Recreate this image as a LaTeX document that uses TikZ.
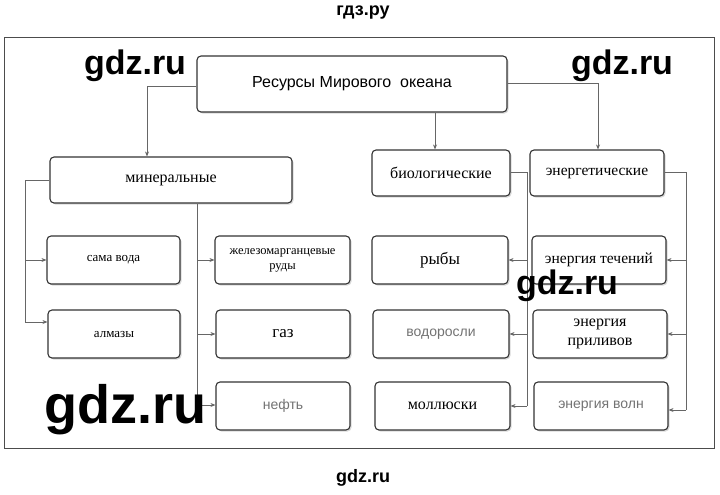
\documentclass[tikz,border=0pt]{standalone}
\usepackage{fontspec}
\setmainfont{Liberation Serif}
\newfontfamily\sansf{Liberation Sans}
\usetikzlibrary{arrows.meta,shadows}
\begin{document}
\begin{tikzpicture}[x=1pt,y=-1pt,
  bx/.style={draw=black!80,line width=1.1pt,rounded corners=4pt,fill=white,drop shadow={opacity=0.3,shadow xshift=1.5pt,shadow yshift=-1.5pt},align=center,inner sep=0pt},
  ln/.style={draw=black!60,line width=0.7pt},
  ar/.style={ln,-{Stealth[length=5pt,width=4pt]}},
  gr/.style={font=\sansf\fontsize{14}{16}\selectfont,text=black!55},
  wm/.style={text=black}]
\useasboundingbox (0,0) rectangle (720,495);
\draw[black!70,line width=1pt] (4,38) rectangle (714,448);
\newcommand\bb[7]{\node[bx,minimum width=#4-#2,minimum height=#5-#3,#6] (#1) at ({(#2+#4)/2},{(#3+#5)/2}) {#7};}
\bb{t}{197}{56}{507}{112}{font=\sansf\fontsize{16}{18}\selectfont}{Ресурсы Мирового\ \ океана}
\bb{m}{50}{157}{292}{203}{font=\fontsize{16}{18}\selectfont}{минеральные}
\bb{b}{372}{150}{510}{196}{font=\fontsize{16}{18}\selectfont}{биологические}
\bb{e}{530}{150}{664}{196}{font=\fontsize{15.5}{18}\selectfont}{энергетические}
\bb{sv}{47}{236}{180}{284}{font=\fontsize{13}{15}\selectfont}{сама вода}
\bb{zm}{215}{236}{350}{284}{font=\fontsize{12.5}{15}\selectfont}{железомарганцевые\\руды}
\bb{ry}{372}{236}{508}{284}{font=\fontsize{17}{19}\selectfont}{рыбы}
\bb{et}{532}{236}{666}{284}{font=\fontsize{15.5}{18}\selectfont}{энергия течений}
\bb{al}{48}{310}{180}{358}{font=\fontsize{13}{15}\selectfont}{алмазы}
\bb{gz}{216}{310}{350}{358}{font=\fontsize{17}{19}\selectfont}{газ}
\bb{vd}{373}{310}{509}{358}{gr}{водоросли}
\bb{ep}{533}{310}{667}{358}{font=\fontsize{16}{19}\selectfont}{энергия\\приливов}
\bb{nf}{216}{382}{350}{430}{gr}{нефть}
\bb{ml}{375}{382}{510}{430}{font=\fontsize{16}{18}\selectfont}{моллюски}
\bb{ev}{534}{382}{668}{430}{gr}{энергия волн}
% connectors
\draw[ar] (t.west|-0,86) -| (m.north-|147,0);
\draw[ar] (t.south-|435,0) -- (b.north-|435,0);
\draw[ar] (t.east|-0,83) -| (e.north-|598,0);
\draw[ln] (m.west|-0,180) -| (25,322);
\draw[ar] (25,260) -- (sv.west|-0,260);
\draw[ar] (25,322) -- (al.west|-0,322);
\draw[ln] (m.south-|197,0) -- (197,405);
\draw[ar] (197,260) -- (zm.west|-0,260);
\draw[ar] (197,334) -- (gz.west|-0,334);
\draw[ar] (197,405) -- (nf.west|-0,405);
\draw[ln] (b.east|-0,172) -| (527,406);
\draw[ar] (527,260) -- (ry.east|-0,260);
\draw[ar] (527,334) -- (vd.east|-0,334);
\draw[ar] (527,406) -- (ml.east|-0,406);
\draw[ln] (e.east|-0,172) -| (686,410);
\draw[ar] (686,260) -- (et.east|-0,260);
\draw[ar] (686,334) -- (ep.east|-0,334);
\draw[ar] (686,410) -- (ev.east|-0,410);
% watermarks
\node[wm,font=\sansf\bfseries\fontsize{18}{20}\selectfont] (w0) at (363,13) {гдз.ру};
\node[wm,font=\sansf\bfseries\fontsize{34}{36}\selectfont] (w1) at (135,66) {gdz.ru};
\node[wm,font=\sansf\bfseries\fontsize{34}{36}\selectfont] (w2) at (622,66) {gdz.ru};
\node[wm,font=\sansf\bfseries\fontsize{34}{36}\selectfont] (w3) at (567,286) {gdz.ru};
\node[wm,font=\sansf\bfseries\fontsize{54}{56}\selectfont] (w4) at (125,410) {gdz.ru};
\node[wm,font=\sansf\bfseries\fontsize{18}{20}\selectfont] (w5) at (363,478) {gdz.ru};
\end{tikzpicture}
\end{document}
